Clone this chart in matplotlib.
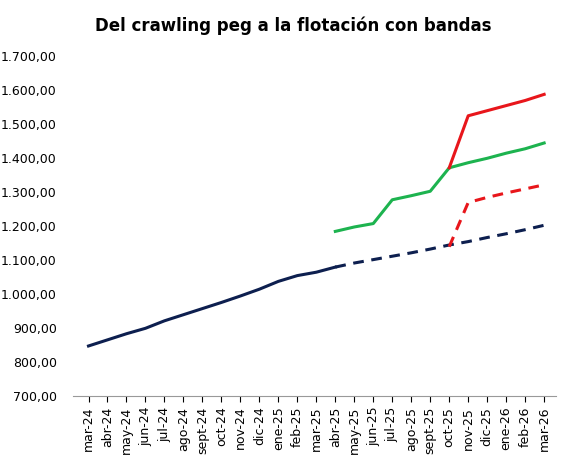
import matplotlib
matplotlib.use("Agg")
import matplotlib.pyplot as plt
from matplotlib.ticker import FuncFormatter
import numpy as np

months = ["mar-24","abr-24","may-24","jun-24","jul-24","ago-24","sept-24","oct-24","nov-24","dic-24",
          "ene-25","feb-25","mar-25","abr-25","may-25","jun-25","jul-25","ago-25","sept-25","oct-25",
          "nov-25","dic-25","ene-26","feb-26","mar-26"]
crawling = [848,866,884,900,922,940,958,976,995,1015,1038,1055,1065,1080]
crawling_proj = [1080,1092,1102,1112,1122,1133,1145,1155,1167,1178,1190,1203]
green = [1185,1198,1208,1278,1290,1303,1372,1387,1400,1415,1428,1445]
red = [1372,1525,1540,1555,1570,1588]
red_dash = [1140,1270,1285,1298,1310,1322]

x = np.arange(len(months))
fig, ax = plt.subplots(figsize=(5.64,4.69), dpi=100)
fig.subplots_adjust(left=0.13, right=0.985, top=0.88, bottom=0.155)
ax.plot(x[:14], crawling, color="#0d1f4f", lw=2.2)
ax.plot(x[13:], crawling_proj, color="#0d1f4f", lw=2.2, ls=(0,(3.5,2.5)))
ax.plot(x[13:], green, color="#1db34f", lw=2.2)
ax.plot(x[19:], red, color="#e8161b", lw=2.2)
ax.plot(x[19:], red_dash, color="#e8161b", lw=2.2, ls=(0,(3.5,2.5)))
ax.set_ylim(700,1700)
ax.set_yticks(range(700,1701,100))
ax.yaxis.set_major_formatter(FuncFormatter(lambda v,p: f"{v:,.2f}".replace(",","X").replace(".",",").replace("X",".")))
ax.set_xlim(-0.8, len(months)-0.4)
ax.set_xticks(x)
ax.set_xticklabels(months, rotation=90, fontsize=9)
ax.tick_params(axis='y', labelsize=9, length=0, pad=12)
ax.tick_params(axis='x', length=4)
for s in ["top","right","left"]:
    ax.spines[s].set_visible(False)
ax.spines["bottom"].set_color("#999999")
fig.suptitle("Del crawling peg a la flotación con bandas", fontsize=12, fontweight="bold", y=0.965, x=0.52)
fig.savefig("out.png")
